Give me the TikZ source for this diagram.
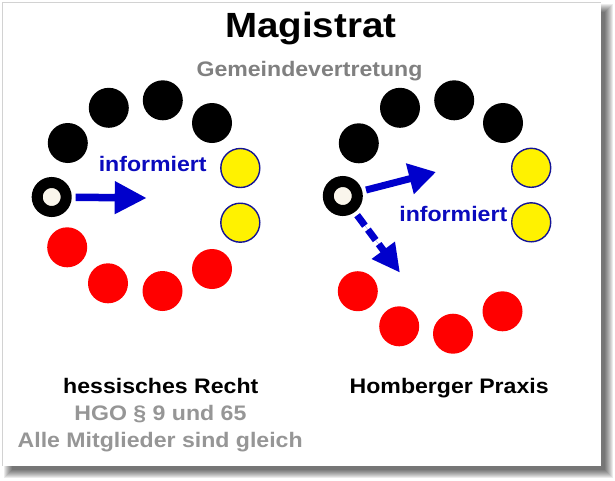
\documentclass[tikz,border=0pt]{standalone}
\usepackage{fontspec}
\usepackage{graphicx}
\setmainfont{Liberation Sans}
\usetikzlibrary{arrows.meta}
\definecolor{arrblue}{RGB}{0,0,204}
\definecolor{txtblue}{RGB}{10,10,190}
\definecolor{ybord}{RGB}{20,20,150}
\definecolor{ringin}{RGB}{250,246,236}
\definecolor{gtxt}{RGB}{128,128,128}
\definecolor{gtxtb}{RGB}{150,150,150}
\newcommand{\hsx}[1]{\scalebox{1.1}[1]{#1}}
\begin{document}
\begin{tikzpicture}[x=1pt,y=-1pt,
  dot/.style={circle,minimum size=40pt,inner sep=0pt},
  blk/.style={dot,fill=black},
  yel/.style={dot,fill=yellow,draw=ybord,line width=1.4pt,minimum size=39pt},
  rd/.style={dot,fill=red},
  ringdot/.style={circle,inner sep=0pt,minimum size=29pt,fill=ringin,draw=black,line width=11pt},
  lbl/.style={anchor=base,inner sep=0pt,font=\bfseries\fontsize{21}{25}\selectfont},
  arrsolid/.style={draw=arrblue,fill=arrblue,line width=7.5pt,shorten <=4pt,-{Triangle[length=32pt,width=31pt]}},
  arrsolidR/.style={draw=arrblue,fill=arrblue,line width=7pt,shorten <=4pt,-{Triangle[length=27pt,width=30pt]}},
  arrdash/.style={draw=arrblue,fill=arrblue,line width=7pt,shorten <=4pt,dash pattern=on 13pt off 5pt,-{Triangle[length=28pt,width=27pt]}}
]
\useasboundingbox (0,0) rectangle (615,480);
\fill[white] (0,0) rectangle (615,480);
% shadow
\foreach \k in {0,...,8}{
  \fill[black,opacity=0.08] (4+\k,4+\k) rectangle (613-\k,478-\k);
}
\fill[white] (2,2) rectangle (601,466);
\draw[gray!35,line width=0.8pt] (2,466) -- (2,2) -- (601,2);

% titles
\node[lbl,font=\bfseries\fontsize{35}{40}\selectfont] (title) at (310.8,37) {\hsx{Magistrat}};
\node[lbl,text=gtxt] (gv) at (309.5,76) {\hsx{Gemeindevertretung}};

% left group
\node[ringdot] (ringL) at (51.7,197) {};
\node[blk] (lA) at (67.8,143) {};
\node[blk] (lB) at (108.8,107.8) {};
\node[blk] (lC) at (162.8,100.3) {};
\node[blk] (lD) at (212,123) {};
\node[yel] (lY1) at (240.3,168) {};
\node[yel] (lY2) at (240.3,222.7) {};
\node[rd] (lR4) at (212,269) {};
\node[rd] (lR3) at (162.5,291) {};
\node[rd] (lR2) at (108,283.3) {};
\node[rd] (lR1) at (67.2,247.3) {};
\node[lbl,text=txtblue] (infL) at (152.7,171.7) {\hsx{informiert}};
\coordinate (tipL) at (146.7,198);
\draw[arrsolid] (ringL) -- (tipL);

% right group
\node[ringdot] (ringR) at (342.8,196) {};
\node[blk] (rA) at (358.8,143.3) {};
\node[blk] (rB) at (400,107.8) {};
\node[blk] (rC) at (454.2,100.3) {};
\node[blk] (rD) at (503,123) {};
\node[yel] (rY1) at (531.2,167.8) {};
\node[yel] (rY2) at (531.2,222.3) {};
\node[rd] (rR4) at (502.5,311.3) {};
\node[rd] (rR3) at (453,333.7) {};
\node[rd] (rR2) at (399.2,326.3) {};
\node[rd] (rR1) at (357.8,291.2) {};
\node[lbl,text=txtblue] (infR) at (453.3,221.7) {\hsx{informiert}};
\coordinate (tipR) at (436,172);
\coordinate (tipD) at (400,272.7);
\draw[arrsolidR] (ringR) -- (tipR);
\draw[arrdash] (ringR) -- (tipD);

% bottom texts
\node[lbl] (hr) at (160.8,393.3) {\hsx{hessisches Recht}};
\node[lbl] (hp) at (449.2,393.3) {\hsx{Homberger Praxis}};
\node[lbl,text=gtxtb] (hgo) at (160.4,420.5) {\hsx{HGO § 9 und 65}};
\node[lbl,text=gtxtb] (alle) at (160.2,447) {\hsx{Alle Mitglieder sind gleich}};
\end{tikzpicture}
\end{document}
